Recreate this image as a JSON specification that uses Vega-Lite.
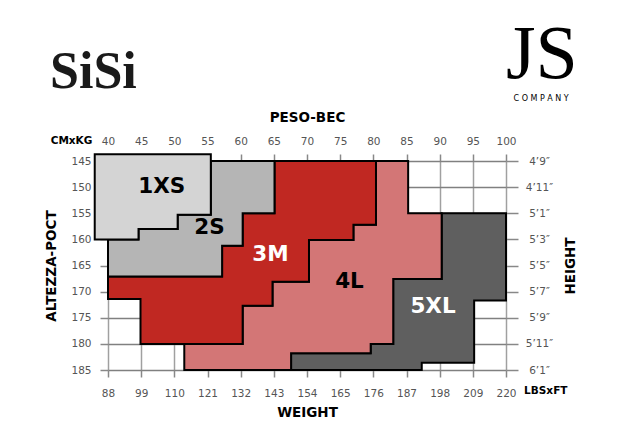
{
  "$schema": "https://vega.github.io/schema/vega-lite/v6.json",
  "autosize": "none",
  "width": 398,
  "height": 209,
  "padding": {"left": 108, "top": 161, "right": 114, "bottom": 70},
  "background": "white",
  "config": {
    "view": {"stroke": null},
    "axis": {
      "labelFont": "DejaVu Sans",
      "labelFontSize": 10.5,
      "labelColor": "#555555",
      "titleFont": "DejaVu Sans",
      "titleFontSize": 13.5,
      "titleFontWeight": "bold",
      "titleColor": "#000000",
      "domain": false,
      "tickColor": "#888888",
      "tickWidth": 1.5
    }
  },
  "datasets": {
    "poly": [
      {"size": "1XS", "i": 0, "kg": 38, "cm": 143.7},
      {"size": "1XS", "i": 1, "kg": 55.5, "cm": 143.7},
      {"size": "1XS", "i": 2, "kg": 55.5, "cm": 155.3},
      {"size": "1XS", "i": 3, "kg": 50.5, "cm": 155.3},
      {"size": "1XS", "i": 4, "kg": 50.5, "cm": 158},
      {"size": "1XS", "i": 5, "kg": 44.6, "cm": 158},
      {"size": "1XS", "i": 6, "kg": 44.6, "cm": 160},
      {"size": "1XS", "i": 7, "kg": 38, "cm": 160},

      {"size": "2S", "i": 0, "kg": 55.5, "cm": 145},
      {"size": "2S", "i": 1, "kg": 65.1, "cm": 145},
      {"size": "2S", "i": 2, "kg": 65.1, "cm": 155},
      {"size": "2S", "i": 3, "kg": 60.3, "cm": 155},
      {"size": "2S", "i": 4, "kg": 60.3, "cm": 161.2},
      {"size": "2S", "i": 5, "kg": 57.2, "cm": 161.2},
      {"size": "2S", "i": 6, "kg": 57.2, "cm": 167.1},
      {"size": "2S", "i": 7, "kg": 40, "cm": 167.1},
      {"size": "2S", "i": 8, "kg": 40, "cm": 160},
      {"size": "2S", "i": 9, "kg": 44.6, "cm": 160},
      {"size": "2S", "i": 10, "kg": 44.6, "cm": 158},
      {"size": "2S", "i": 11, "kg": 50.5, "cm": 158},
      {"size": "2S", "i": 12, "kg": 50.5, "cm": 155.3},
      {"size": "2S", "i": 13, "kg": 55.5, "cm": 155.3},

      {"size": "3M", "i": 0, "kg": 65.1, "cm": 145},
      {"size": "3M", "i": 1, "kg": 80.4, "cm": 145},
      {"size": "3M", "i": 2, "kg": 80.4, "cm": 157.2},
      {"size": "3M", "i": 3, "kg": 77, "cm": 157.2},
      {"size": "3M", "i": 4, "kg": 77, "cm": 160.1},
      {"size": "3M", "i": 5, "kg": 70.3, "cm": 160.1},
      {"size": "3M", "i": 6, "kg": 70.3, "cm": 168.1},
      {"size": "3M", "i": 7, "kg": 64.8, "cm": 168.1},
      {"size": "3M", "i": 8, "kg": 64.8, "cm": 172.7},
      {"size": "3M", "i": 9, "kg": 60.3, "cm": 172.7},
      {"size": "3M", "i": 10, "kg": 60.3, "cm": 180},
      {"size": "3M", "i": 11, "kg": 44.9, "cm": 180},
      {"size": "3M", "i": 12, "kg": 44.9, "cm": 171.4},
      {"size": "3M", "i": 13, "kg": 40, "cm": 171.4},
      {"size": "3M", "i": 14, "kg": 40, "cm": 167.1},
      {"size": "3M", "i": 15, "kg": 57.2, "cm": 167.1},
      {"size": "3M", "i": 16, "kg": 57.2, "cm": 161.2},
      {"size": "3M", "i": 17, "kg": 60.3, "cm": 161.2},
      {"size": "3M", "i": 18, "kg": 60.3, "cm": 155},
      {"size": "3M", "i": 19, "kg": 65.1, "cm": 155},

      {"size": "4L", "i": 0, "kg": 80.4, "cm": 145},
      {"size": "4L", "i": 1, "kg": 85.25, "cm": 145},
      {"size": "4L", "i": 2, "kg": 85.25, "cm": 155},
      {"size": "4L", "i": 3, "kg": 90.3, "cm": 155},
      {"size": "4L", "i": 4, "kg": 90.3, "cm": 167.6},
      {"size": "4L", "i": 5, "kg": 83, "cm": 167.6},
      {"size": "4L", "i": 6, "kg": 83, "cm": 180},
      {"size": "4L", "i": 7, "kg": 79.6, "cm": 180},
      {"size": "4L", "i": 8, "kg": 79.6, "cm": 181.8},
      {"size": "4L", "i": 9, "kg": 67.6, "cm": 181.8},
      {"size": "4L", "i": 10, "kg": 67.6, "cm": 185},
      {"size": "4L", "i": 11, "kg": 51.5, "cm": 185},
      {"size": "4L", "i": 12, "kg": 51.5, "cm": 180},
      {"size": "4L", "i": 13, "kg": 60.3, "cm": 180},
      {"size": "4L", "i": 14, "kg": 60.3, "cm": 172.7},
      {"size": "4L", "i": 15, "kg": 64.8, "cm": 172.7},
      {"size": "4L", "i": 16, "kg": 64.8, "cm": 168.1},
      {"size": "4L", "i": 17, "kg": 70.3, "cm": 168.1},
      {"size": "4L", "i": 18, "kg": 70.3, "cm": 160.1},
      {"size": "4L", "i": 19, "kg": 77, "cm": 160.1},
      {"size": "4L", "i": 20, "kg": 77, "cm": 157.2},
      {"size": "4L", "i": 21, "kg": 80.4, "cm": 157.2},

      {"size": "5XL", "i": 0, "kg": 90.3, "cm": 155},
      {"size": "5XL", "i": 1, "kg": 100, "cm": 155},
      {"size": "5XL", "i": 2, "kg": 100, "cm": 171.7},
      {"size": "5XL", "i": 3, "kg": 95.2, "cm": 171.7},
      {"size": "5XL", "i": 4, "kg": 95.2, "cm": 183.6},
      {"size": "5XL", "i": 5, "kg": 87.3, "cm": 183.6},
      {"size": "5XL", "i": 6, "kg": 87.3, "cm": 185},
      {"size": "5XL", "i": 7, "kg": 67.6, "cm": 185},
      {"size": "5XL", "i": 8, "kg": 67.6, "cm": 181.8},
      {"size": "5XL", "i": 9, "kg": 79.6, "cm": 181.8},
      {"size": "5XL", "i": 10, "kg": 79.6, "cm": 180},
      {"size": "5XL", "i": 11, "kg": 83, "cm": 180},
      {"size": "5XL", "i": 12, "kg": 83, "cm": 167.6},
      {"size": "5XL", "i": 13, "kg": 90.3, "cm": 167.6}
    ],
    "labels": [
      {"label": "1XS", "kg": 48.1, "cm": 150},
      {"label": "2S", "kg": 55.3, "cm": 157.75},
      {"label": "3M", "kg": 64.5, "cm": 163},
      {"label": "4L", "kg": 76.4, "cm": 168.1},
      {"label": "5XL", "kg": 89.0, "cm": 173}
    ],
    "notes": [
      {"kind": "corner", "text": "CMxKG", "kg": 34.5, "cm": 141.2},
      {"kind": "corner", "text": "LBSxFT", "kg": 106.0, "cm": 189.0},
      {"kind": "sisi", "text": "SiSi", "kg": 37.8, "cm": 131.0},
      {"kind": "js", "text": "JS", "kg": 105.4, "cm": 129.1},
      {"kind": "company", "text": "C O M P A N Y", "kg": 105.3, "cm": 133.5}
    ]
  },
  "resolve": {"axis": {"x": "independent", "y": "independent"}},
  "layer": [
    {
      "data": {"name": "poly"},
      "transform": [{"filter": "datum.size === '5XL'"}],
      "mark": {"type": "line", "interpolate": "linear-closed", "filled": true, "fill": "#5f5f5f", "stroke": "#000000", "strokeWidth": 2, "strokeJoin": "miter"},
      "encoding": {
        "x": {"field": "kg", "type": "quantitative", "scale": {"domain": [40, 100], "nice": false, "zero": false},
          "axis": {"orient": "top", "title": "PESO-BEC", "values": [40,45,50,55,60,65,70,75,80,85,90,95,100], "grid": true, "gridColor": "#a0a0a0", "gridWidth": 1.5, "tickSize": 7, "labelPadding": 8, "titlePadding": 12, "labelFlush": false}},
        "y": {"field": "cm", "type": "quantitative", "scale": {"domain": [145, 185], "reverse": true, "nice": false, "zero": false},
          "axis": {"orient": "left", "title": "ALTEZZA-POCT", "values": [145,150,155,160,165,170,175,180,185], "grid": true, "gridColor": "#808080", "gridWidth": 1.5, "tickSize": 8, "labelPadding": 9, "titlePadding": 12, "labelFlush": false}},
        "order": {"field": "i", "type": "quantitative"}
      }
    },
    {
      "data": {"name": "poly"},
      "transform": [{"filter": "datum.size === '4L'"}],
      "mark": {"type": "line", "interpolate": "linear-closed", "filled": true, "fill": "#d37676", "stroke": "#000000", "strokeWidth": 2, "strokeJoin": "miter"},
      "encoding": {
        "x": {"field": "kg", "type": "quantitative", "scale": {"domain": [40, 100], "nice": false, "zero": false},
          "axis": {"orient": "bottom", "title": "WEIGHT", "values": [40,45,50,55,60,65,70,75,80,85,90,95,100], "labelExpr": "round(datum.value*2.2)", "grid": false, "tickSize": 7, "labelPadding": 11, "titlePadding": 7, "labelFlush": false}},
        "y": {"field": "cm", "type": "quantitative", "scale": {"domain": [145, 185], "reverse": true, "nice": false, "zero": false},
          "axis": {"orient": "right", "title": "HEIGHT", "titleAngle": 270, "values": [145,150,155,160,165,170,175,180,185], "labelExpr": "['4’9″','4’11″','5’1″','5’3″','5’5″','5’7″','5’9″','5’11″','6’1″'][round((datum.value-145)/5)]", "labelAlign": "center", "grid": false, "tickSize": 12, "labelPadding": 21, "titlePadding": 25, "labelFlush": false}},
        "order": {"field": "i", "type": "quantitative"}
      }
    },
    {
      "data": {"name": "poly"},
      "transform": [{"filter": "datum.size === '3M'"}],
      "mark": {"type": "line", "interpolate": "linear-closed", "filled": true, "fill": "#c02822", "stroke": "#000000", "strokeWidth": 2, "strokeJoin": "miter"},
      "encoding": {
        "x": {"field": "kg", "type": "quantitative", "axis": null},
        "y": {"field": "cm", "type": "quantitative", "axis": null},
        "order": {"field": "i", "type": "quantitative"}
      }
    },
    {
      "data": {"name": "poly"},
      "transform": [{"filter": "datum.size === '2S'"}],
      "mark": {"type": "line", "interpolate": "linear-closed", "filled": true, "fill": "#b5b5b5", "stroke": "#000000", "strokeWidth": 2, "strokeJoin": "miter"},
      "encoding": {
        "x": {"field": "kg", "type": "quantitative", "axis": null},
        "y": {"field": "cm", "type": "quantitative", "axis": null},
        "order": {"field": "i", "type": "quantitative"}
      }
    },
    {
      "data": {"name": "poly"},
      "transform": [{"filter": "datum.size === '1XS'"}],
      "mark": {"type": "line", "interpolate": "linear-closed", "filled": true, "fill": "#d4d4d4", "stroke": "#000000", "strokeWidth": 2, "strokeJoin": "miter"},
      "encoding": {
        "x": {"field": "kg", "type": "quantitative", "axis": null},
        "y": {"field": "cm", "type": "quantitative", "axis": null},
        "order": {"field": "i", "type": "quantitative"}
      }
    },
    {
      "data": {"name": "labels"},
      "mark": {"type": "text", "font": "DejaVu Sans", "fontWeight": "bold", "fontSize": 21.5, "align": "center", "baseline": "middle"},
      "encoding": {
        "x": {"field": "kg", "type": "quantitative", "axis": null},
        "y": {"field": "cm", "type": "quantitative", "axis": null},
        "text": {"field": "label"},
        "color": {"condition": {"test": "datum.label === '3M' || datum.label === '5XL'", "value": "#ffffff"}, "value": "#000000"}
      }
    },
    {
      "data": {"name": "notes"},
      "transform": [{"filter": "datum.kind === 'corner'"}],
      "mark": {"type": "text", "font": "DejaVu Sans", "fontWeight": "bold", "fontSize": 10.5, "align": "center", "baseline": "middle", "color": "#000000"},
      "encoding": {
        "x": {"field": "kg", "type": "quantitative", "axis": null},
        "y": {"field": "cm", "type": "quantitative", "axis": null},
        "text": {"field": "text"}
      }
    },
    {
      "data": {"name": "notes"},
      "transform": [{"filter": "datum.kind === 'sisi'"}],
      "mark": {"type": "text", "font": "Liberation Serif", "fontWeight": "bold", "fontSize": 52, "align": "center", "baseline": "alphabetic", "color": "#1a1a1a"},
      "encoding": {
        "x": {"field": "kg", "type": "quantitative", "axis": null},
        "y": {"field": "cm", "type": "quantitative", "axis": null},
        "text": {"field": "text"}
      }
    },
    {
      "data": {"name": "notes"},
      "transform": [{"filter": "datum.kind === 'js'"}],
      "mark": {"type": "text", "font": "Liberation Serif", "fontSize": 76, "align": "center", "baseline": "alphabetic", "color": "#000000"},
      "encoding": {
        "x": {"field": "kg", "type": "quantitative", "axis": null},
        "y": {"field": "cm", "type": "quantitative", "axis": null},
        "text": {"field": "text"}
      }
    },
    {
      "data": {"name": "notes"},
      "transform": [{"filter": "datum.kind === 'company'"}],
      "mark": {"type": "text", "font": "DejaVu Sans", "fontSize": 8, "align": "center", "baseline": "alphabetic", "color": "#000000"},
      "encoding": {
        "x": {"field": "kg", "type": "quantitative", "axis": null},
        "y": {"field": "cm", "type": "quantitative", "axis": null},
        "text": {"field": "text"}
      }
    }
  ]
}
